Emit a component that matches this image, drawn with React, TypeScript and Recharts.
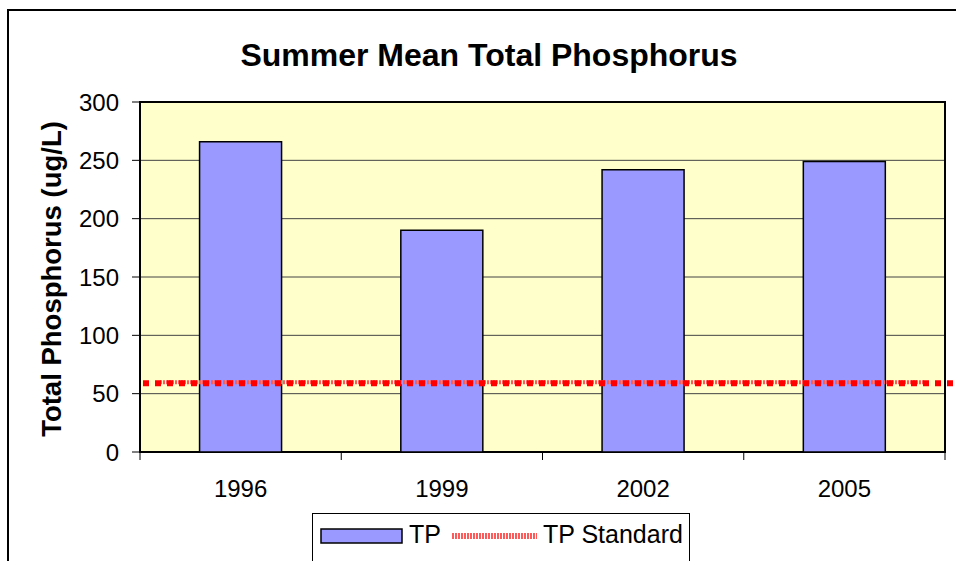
import React from "react";
import {
  BarChart,
  Bar,
  XAxis,
  YAxis,
  CartesianGrid,
  ReferenceLine,
  ReferenceArea,
  Legend,
} from "recharts";

const YEARS = ["1996", "1999", "2002", "2005"];
const TP_VALUES = [266, 190, 242, 249];
const TP_STANDARD = 59;
const Y_TICKS = [0, 50, 100, 150, 200, 250, 300];

const FONT = "Arial, 'Liberation Sans', sans-serif";
const W = 956;
const H = 561;
const PLOT_LEFT = 140;
const PLOT_RIGHT = 945;

const data = YEARS.map((year, i) => ({ year, tp: TP_VALUES[i] }));

// Excel-style category tick: mark between categories, label centred
const XTick = (props: any) => {
  const { x, y, payload, index } = props;
  const half = payload.offset || (PLOT_RIGHT - PLOT_LEFT) / YEARS.length / 2;
  const last = index === YEARS.length - 1;
  return (
    <g>
      <line x1={x - half} x2={x - half} y1={y} y2={y + 8} stroke="#000" strokeWidth={1} />
      {last && <line x1={x + half} x2={x + half} y1={y} y2={y + 8} stroke="#000" strokeWidth={1} />}
      <text x={x} y={y + 45} textAnchor="middle" fontSize={24} fontFamily={FONT} fill="#000">
        {payload.value}
      </text>
    </g>
  );
};

const StandardLine = (props: any) => {
  const { x1, x2, y1 } = props;
  return (
    <g>
      <line x1={x1 + 20} x2={x2 - 20} y1={y1 - 1} y2={y1 - 1} stroke="#ff5a5a" strokeWidth={4} strokeDasharray="2 1" />
      <line x1={x1 + 3} x2={x2 + 8} y1={y1} y2={y1} stroke="#ff0000" strokeWidth={6} strokeDasharray="6 6" />
    </g>
  );
};

const LegendBox = () => (
  <svg width={378} height={48} style={{ display: "block" }}>
    <rect x={0.5} y={0.5} width={377} height={60} fill="#fff" stroke="#000" strokeWidth={1} />
    <rect x={9} y={16} width={81} height={14} fill="#9999FF" stroke="#000" strokeWidth={1.5} />
    <text x={97} y={30} fontSize={25} fontFamily={FONT} fill="#000">TP</text>
    <line x1={140} x2={225} y1={23} y2={23} stroke="#ff5a5a" strokeWidth={6} strokeDasharray="2 1" />
    <text x={231} y={30} fontSize={25} fontFamily={FONT} fill="#000">TP Standard</text>
  </svg>
);

const YLabel = () => (
  <text
    x={51}
    y={279}
    transform="rotate(-90 51 279)"
    textAnchor="middle"
    dominantBaseline="central"
    fontSize={27.5}
    fontWeight="bold"
    fontFamily={FONT}
    fill="#000"
  >
    Total Phosphorus (ug/L)
  </text>
);

export default function App() {
  return (
    <div style={{ position: "absolute", left: 0, top: 0, width: W, height: H, background: "#fff", overflow: "hidden" }}>
      <div
        style={{
          position: "absolute",
          left: 7,
          top: 9,
          width: W,
          height: H,
          borderLeft: "2px solid #000",
          borderTop: "2px solid #000",
        }}
      />
      <div
        style={{
          position: "absolute",
          left: 0,
          top: 36,
          width: 978,
          textAlign: "center",
          fontFamily: FONT,
          fontWeight: "bold",
          fontSize: 32,
          lineHeight: "38px",
        }}
      >
        Summer Mean Total Phosphorus
      </div>
      <div style={{ position: "absolute", left: 0, top: 0 }}>
        <BarChart
          width={W}
          height={H}
          data={data}
          margin={{ top: 102, right: W - PLOT_RIGHT, left: 0, bottom: 69 }}
          barCategoryGap="29.6%"
        >
          <CartesianGrid vertical={false} stroke="#444" fill="#FFFFCC" />
          <XAxis
            dataKey="year"
            height={40}
            axisLine={false}
            tickLine={false}
            tickSize={0}
            tickMargin={0}
            tick={<XTick />}
            interval={0}
          />
          <YAxis
            width={PLOT_LEFT}
            domain={[0, 300]}
            ticks={Y_TICKS}
            axisLine={false}
            tickLine={{ stroke: "#000" }}
            tickSize={8}
            tickMargin={13}
            tick={{ fill: "#000", fontSize: 24, fontFamily: FONT }}
            label={{ content: () => <YLabel /> }}
          />
          <Bar dataKey="tp" fill="#9999FF" stroke="#000" strokeWidth={1.5} isAnimationActive={false} />
          <ReferenceLine y={TP_STANDARD} shape={(p: any) => <StandardLine {...p} />} ifOverflow="visible" />
          <ReferenceArea y1={0} y2={300} fill="none" stroke="#000" strokeWidth={2} ifOverflow="visible" />
          <Legend
            layout="horizontal"
            verticalAlign="middle"
            align="center"
            wrapperStyle={{ position: "absolute", top: 513, left: 312, width: 378, height: 48 }}
            content={() => <LegendBox />}
          />
        </BarChart>
      </div>
    </div>
  );
}
